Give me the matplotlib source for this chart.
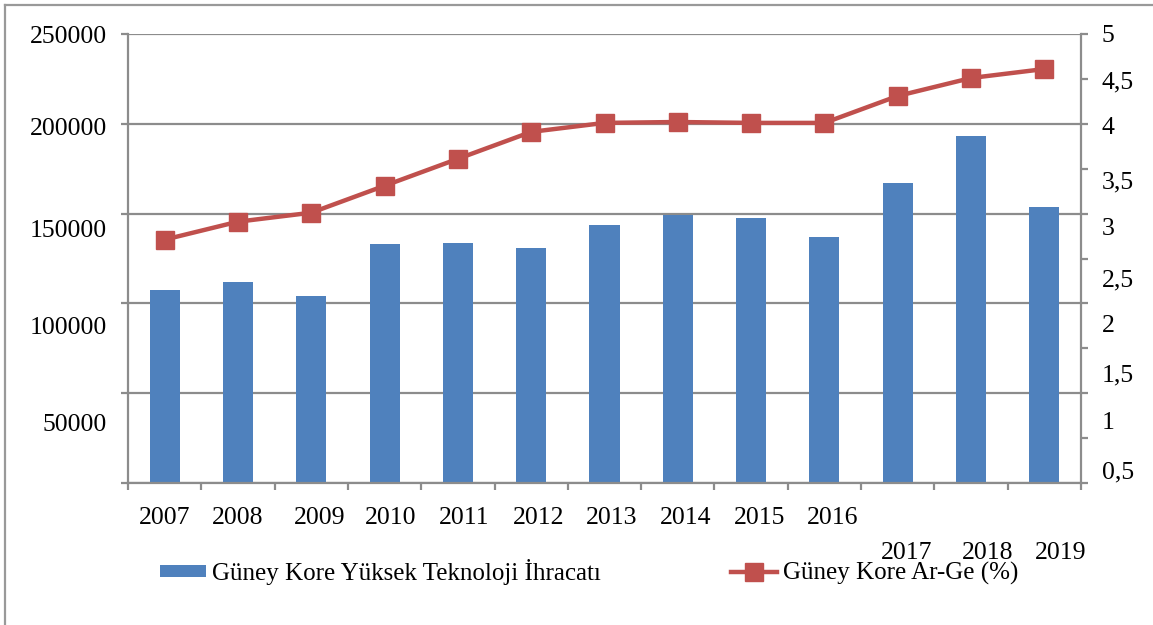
import matplotlib
matplotlib.use("Agg")
import matplotlib.pyplot as plt
import matplotlib.transforms as mtransforms
from matplotlib.lines import Line2D
import numpy as np

plt.rcParams['font.family'] = ['Liberation Serif', 'DejaVu Serif']

years = ['2007', '2008', '2009', '2010', '2011', '2012', '2013',
         '2014', '2015', '2016', '2017', '2018', '2019']
exports = [107200, 111700, 103900, 132800, 133900, 131100, 143900,
           149400, 147800, 136700, 167200, 193300, 153900]
rnd = [2.71, 2.91, 3.01, 3.31, 3.61, 3.91, 4.01, 4.02, 4.01, 4.01, 4.31, 4.51, 4.61]

left_ticks = [0, 50000, 100000, 150000, 200000, 250000]
left_labels = ['', '50000', '100000', '150000', '200000', '250000']
right_ticks = [0, 0.5, 1, 1.5, 2, 2.5, 3, 3.5, 4, 4.5, 5]
right_labels = ['', '0,5', '1', '1,5', '2', '2,5', '3', '3,5', '4', '4,5', '5']

bar_label = 'Güney Kore Yüksek Teknoloji İhracatı'
line_label = 'Güney Kore Ar-Ge (%)'

BLUE = '#4F81BD'
RED = '#C0504D'
GRAY = '#8C8C8C'
FS = 18.5
LFS = 18

W, H = 1153, 625
fig = plt.figure(figsize=(W / 100, H / 100), dpi=100)
ax = fig.add_axes([128 / W, 1 - 483 / H, (1081 - 128) / W, (483 - 34) / H])

x = np.arange(len(years))
ax.bar(x, exports, width=0.41, color=BLUE, zorder=2, label=bar_label)
ax.set_xlim(-0.5, len(years) - 0.5)
ax.set_ylim(0, 250000)
ax.set_yticks(left_ticks)
ax.set_yticklabels(left_labels, fontsize=FS)
ax.yaxis.grid(True, color=GRAY, linewidth=1.6, zorder=0)
ax.set_axisbelow(True)

ax.set_xticks(x)
ax.set_xticklabels(years, fontsize=FS)
ax.set_xticks(np.arange(len(years) + 1) - 0.5, minor=True)
ax.tick_params(axis='x', which='major', length=0, pad=17)
ax.tick_params(axis='x', which='minor', length=5, width=1.6, color=GRAY, direction='out')
ax.tick_params(axis='y', length=5, width=1.6, color=GRAY, pad=10)

for s in ['left', 'bottom']:
    ax.spines[s].set_color(GRAY)
    ax.spines[s].set_linewidth(1.6)
ax.spines['top'].set_visible(False)
ax.spines['right'].set_visible(False)

ax2 = ax.twinx()
ax2.plot(x, rnd, color=RED, linewidth=3.2, marker='s', markersize=13,
         markerfacecolor=RED, markeredgecolor=RED, zorder=3, label=line_label)
ax2.set_ylim(0, 5)
ax2.set_yticks(right_ticks)
ax2.set_yticklabels(right_labels, fontsize=FS)
ax2.tick_params(axis='y', length=5, width=1.6, color=GRAY, pad=10)
ax2.spines['right'].set_color(GRAY)
ax2.spines['right'].set_linewidth(1.6)
for s in ['left', 'top', 'bottom']:
    ax2.spines[s].set_visible(False)

# label displacements seen in the reference (pixels)
def shift(lbl, dx, dy):
    lbl.set_transform(lbl.get_transform() +
                      mtransforms.ScaledTranslation(dx / 100, -dy / 100, fig.dpi_scale_trans))

x_dx = [0, 0, 8, 6, 6, 7, 7, 8, 8, 8, 9, 17, 16]
x_dy = [0] * 10 + [35, 35, 35]
for lbl, dx, dy in zip(ax.get_xticklabels(), x_dx, x_dy):
    shift(lbl, dx, dy)

l_dy = [0, 29, 22, 15, 3, 0]
for lbl, dy in zip(ax.get_yticklabels(), l_dy):
    shift(lbl, 0, dy)

r_dy = [0, 32, 27, 25, 20, 19, 13, 11, 2, 1, 0]
for lbl, dy in zip(ax2.get_yticklabels(), r_dy):
    shift(lbl, 0, dy)

h1, l1 = ax.get_legend_handles_labels()
h2, l2 = ax2.get_legend_handles_labels()
fig.legend(h1 + h2, l1 + l2, loc='center left', bbox_to_anchor=(137 / W, 1 - 572 / H),
           ncol=2, frameon=False, fontsize=LFS, columnspacing=5.2,
           handlelength=1.85, handleheight=0.4, handletextpad=0.25)

# figure frame
fig.add_artist(Line2D([5 / W, 1], [1 - 5 / H, 1 - 5 / H], transform=fig.transFigure,
                      color='#999999', linewidth=1.6))
fig.add_artist(Line2D([5 / W, 5 / W], [0, 1 - 5 / H], transform=fig.transFigure,
                      color='#999999', linewidth=1.6))

fig.savefig('out.png', dpi=100)
